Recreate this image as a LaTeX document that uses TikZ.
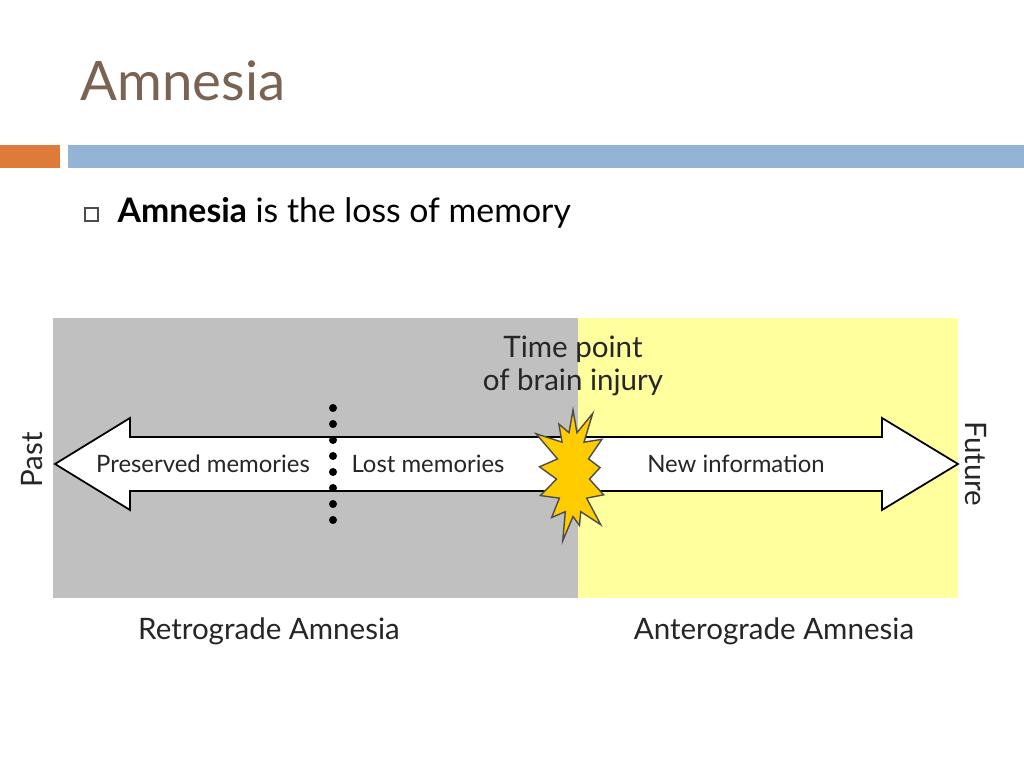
\documentclass[tikz,border=0pt]{standalone}
\usepackage{fontspec}
\setmainfont{Lato}
\usetikzlibrary{positioning,shapes.symbols}
\definecolor{titlebrown}{HTML}{7A6352}
\definecolor{barorange}{HTML}{DF7B3A}
\definecolor{barblue}{HTML}{93B4D5}
\definecolor{pastgray}{HTML}{C0C0C0}
\definecolor{futureyellow}{HTML}{FFFF9E}
\definecolor{burst}{HTML}{FFCC00}
\tikzset{
  lbl/.style={font=\fontsize{6.8}{8}\selectfont, text=black!85, inner sep=0pt},
  biglbl/.style={font=\fontsize{8.4}{10}\selectfont, text=black!85, inner sep=0pt},
}
\begin{document}
\begin{tikzpicture}[x=0.01cm,y=-0.01cm]
\useasboundingbox (0,0) rectangle (1024,768);
\fill[white] (0,0) rectangle (1024,768);
% title and bars
\node[anchor=base west, inner sep=0pt, text=titlebrown, font=\fontsize{15.5}{18}\selectfont] (title) at (80,101) {Amnesia};
\fill[barorange] (0,145) rectangle (60,168);
\fill[barblue] (68,145) rectangle (1024,168);
\draw[black!70, line width=0.3pt] (85,208) rectangle (98,221);
\node[anchor=base west, inner sep=0pt, font=\fontsize{9.6}{12}\selectfont] (bullet) at (117,223) {\textbf{Amnesia} is the loss of memory};
% background panels
\fill[pastgray] (53,318) rectangle (578,598);
\fill[futureyellow] (578,318) rectangle (958,598);
% double arrow
\draw[fill=white, line width=0.5pt, line join=miter]
  (55,464) -- (130,418) -- (130,437) -- (882,437) -- (882,418) -- (958,464)
  -- (882,510) -- (882,491) -- (130,491) -- (130,510) -- cycle;
% dotted separator
\foreach \y in {408,424,...,520} \fill (333,\y) circle (4);
% burst
\node[starburst, starburst points=13, starburst point height=0.3cm, fill=burst, draw=black!70,
  minimum width=0.9cm, minimum height=1.45cm, line width=0.4pt] (injury) at (573,474) {};
% labels
\node[lbl] (preserved) at (203,464) {Preserved memories};
\node[lbl] (lost) at (428,464) {Lost memories};
\node[lbl] (newinfo) at (736,464) {New information};
\node[biglbl, align=center, font=\fontsize{8.4}{9.4}\selectfont] (timepoint) at (573,366) {Time point\\of brain injury};
\node[biglbl, rotate=90] (past) at (32,460) {Past};
\node[biglbl, rotate=-90] (future) at (976,464) {Future};
\node[biglbl] (retro) at (269,631) {Retrograde Amnesia};
\node[biglbl] (antero) at (774,631) {Anterograde Amnesia};
\end{tikzpicture}
\end{document}
